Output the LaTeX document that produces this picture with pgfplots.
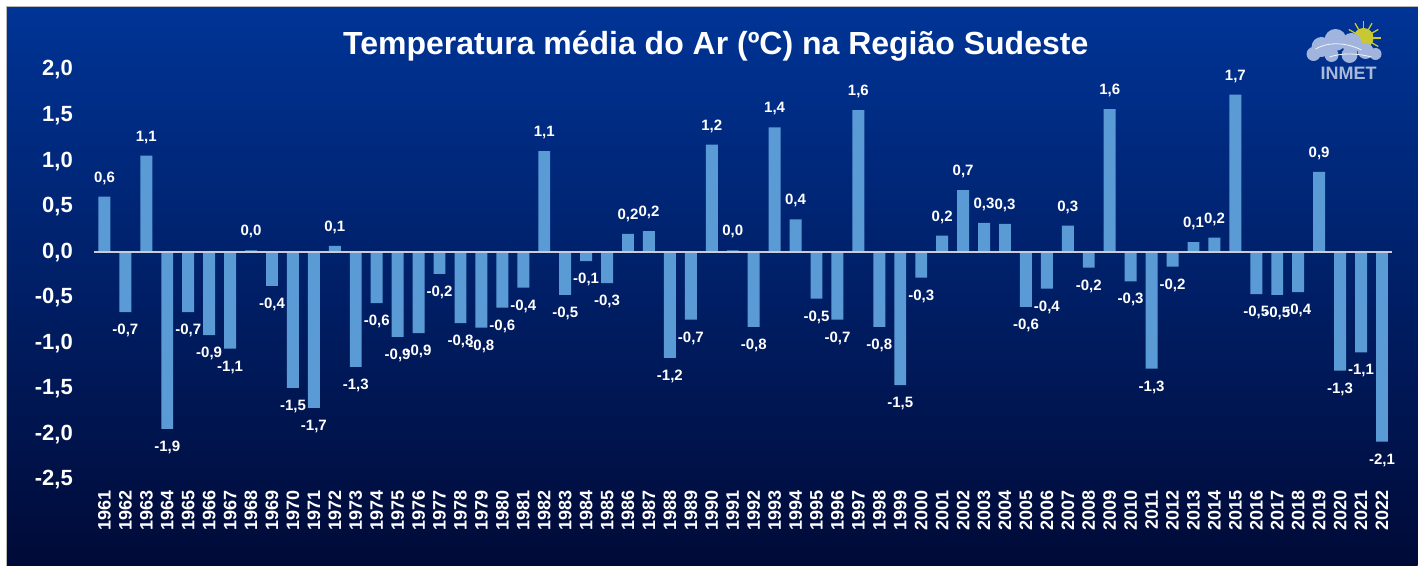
\documentclass[border=0pt]{standalone}
\usepackage{pgfplots}
\pgfplotsset{compat=1.18}
\usepackage{fontspec}
\setmainfont{Liberation Sans}
\definecolor{barblue}{RGB}{91,155,213}
\definecolor{bgtop}{RGB}{0,52,150}
\definecolor{bgmid}{RGB}{0,22,95}
\definecolor{bgbot}{RGB}{0,10,55}
\definecolor{zeroline}{RGB}{200,205,215}
\definecolor{cloudc}{RGB}{160,180,222}
\definecolor{sunc}{RGB}{200,200,50}
\definecolor{inmetc}{RGB}{170,185,215}
\pgfplotstableread{
x year y
0 1961 0.61
1 1962 -0.66
2 1963 1.06
3 1964 -1.94
4 1965 -0.66
5 1966 -0.91
6 1967 -1.06
7 1968 0.02
8 1969 -0.37
9 1970 -1.49
10 1971 -1.71
11 1972 0.07
12 1973 -1.26
13 1974 -0.56
14 1975 -0.93
15 1976 -0.89
16 1977 -0.24
17 1978 -0.78
18 1979 -0.83
19 1980 -0.61
20 1981 -0.39
21 1982 1.11
22 1983 -0.47
23 1984 -0.10
24 1985 -0.34
25 1986 0.20
26 1987 0.23
27 1988 -1.16
28 1989 -0.74
29 1990 1.18
30 1991 0.02
31 1992 -0.82
32 1993 1.37
33 1994 0.36
34 1995 -0.51
35 1996 -0.74
36 1997 1.56
37 1998 -0.82
38 1999 -1.46
39 2000 -0.28
40 2001 0.18
41 2002 0.68
42 2003 0.32
43 2004 0.31
44 2005 -0.60
45 2006 -0.40
46 2007 0.29
47 2008 -0.17
48 2009 1.57
49 2010 -0.32
50 2011 -1.28
51 2012 -0.16
52 2013 0.11
53 2014 0.16
54 2015 1.73
55 2016 -0.46
56 2017 -0.47
57 2018 -0.44
58 2019 0.88
59 2020 -1.30
60 2021 -1.10
61 2022 -2.08
}\datatable
\begin{document}
\begin{tikzpicture}[x=1pt,y=1pt]
\fill[white] (0,0) rectangle (1418,566);
\shade[top color=bgtop, middle color=bgmid, bottom color=bgbot] (7,0) rectangle (1418,559);
\draw[gray!55, line width=1pt] (7,0) -- (7,559) -- (1418,559);
% title
\node[text=white, font=\bfseries\fontsize{32}{34}\selectfont] at (716,520) {Temperatura média do Ar (ºC) na Região Sudeste};
% logo
\foreach \a in {0,30,...,330} {\draw[sunc, line width=1.3pt] (1364,528) -- ++(\a:17);}
\fill[sunc] (1364,528) circle (10);
\begin{scope}[yshift=4pt]
\fill[cloudc] (1314,508) circle (7);
\fill[cloudc] (1322,515) circle (10);
\fill[cloudc] (1336,522) circle (11);
\fill[cloudc] (1352,519) circle (10);
\fill[cloudc] (1366,511) circle (8);
\fill[cloudc] (1376,508) circle (6);
\fill[cloudc] (1350,507) circle (8);
\fill[cloudc] (1332,507) circle (7);
\draw[white!85!cloudc, line width=0.8pt] (1316,513) .. controls (1330,521) and (1348,519) .. (1362,512);
\draw[white!85!cloudc, line width=0.8pt] (1330,505) .. controls (1342,509) and (1356,509) .. (1372,505);
\end{scope}
\node[text=inmetc, font=\bfseries\fontsize{18}{18}\selectfont] at (1349,493) {INMET};
\begin{axis}[
  at={(94pt,86pt)}, anchor=south west,
  scale only axis, width=1299pt, height=410pt,
  xmin=-0.5, xmax=61.5, ymin=-2.5, ymax=2.0,
  ytick={-2.5,-2,...,2},
  axis line style={draw=none},
  major tick length=0pt,
  xtick=data,
  xticklabels={1961,1962,1963,1964,1965,1966,1967,1968,1969,1970,1971,1972,1973,1974,1975,1976,1977,1978,1979,1980,1981,1982,1983,1984,1985,1986,1987,1988,1989,1990,1991,1992,1993,1994,1995,1996,1997,1998,1999,2000,2001,2002,2003,2004,2005,2006,2007,2008,2009,2010,2011,2012,2013,2014,2015,2016,2017,2018,2019,2020,2021,2022},
  xticklabel style={yshift=-10pt, rotate=90, anchor=east, inner sep=0pt, text=white, font=\bfseries\fontsize{18}{18}\selectfont},
  yticklabel style={anchor=east, inner sep=0pt, xshift=-21pt, text=white, font=\bfseries\fontsize{22}{22}\selectfont,
    /pgf/number format/.cd, fixed, fixed zerofill, precision=1, use comma, assume math mode=true},
  ybar, bar width=0.57,
  nodes near coords={\pgfmathprintnumber[fixed,fixed zerofill,precision=1,use comma,assume math mode=true]{\pgfplotspointmeta}},
  every node near coord/.append style={text=white, font=\bfseries\fontsize{15}{15}\selectfont, inner xsep=0pt, inner ysep=12pt},
  clip=false,
]
\addplot[fill=barblue, draw=none] table[x=x, y=y] {\datatable};
\addplot[ybar=0pt, sharp plot, draw=zeroline, line width=2pt, nodes near coords={}, forget plot] coordinates {(-0.5,0) (61.5,0)};
\end{axis}
\end{tikzpicture}
\end{document}
